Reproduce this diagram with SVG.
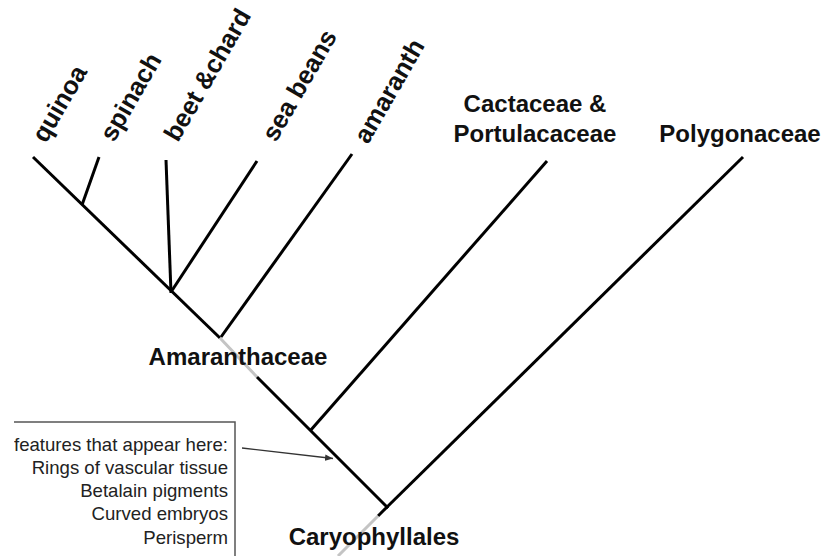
<svg xmlns="http://www.w3.org/2000/svg" width="825" height="556" viewBox="0 0 825 556">
<style>
.br{stroke:#000;stroke-width:3;stroke-linecap:butt;fill:none}
.gr{stroke:#c4c4c4;stroke-width:3;fill:none}
.lbl{font-family:"Liberation Sans",Arial,Helvetica,sans-serif;font-weight:bold;font-size:24px;fill:#111}
.rot{font-size:25.5px}
.note{font-family:"Liberation Sans",Arial,Helvetica,sans-serif;font-size:18.6px;fill:#222;text-anchor:end}
</style>
<defs>
<marker id="ah" viewBox="0 0 10 10" refX="10" refY="5" markerWidth="8" markerHeight="8" markerUnits="userSpaceOnUse" orient="auto">
<path d="M0,1 L10,5 L0,9 z" fill="#333"/>
</marker>
<clipPath id="clip"><rect x="14" y="0" width="811" height="556"/></clipPath>
</defs>
<rect width="825" height="556" fill="#fff"/>
<g id="connectors">
<line class="br" x1="33" y1="157" x2="220" y2="338"/>
<line class="gr" x1="220" y1="338" x2="257" y2="377"/>
<line class="br" x1="257" y1="377" x2="388" y2="508"/>
<line class="br" x1="388" y1="506" x2="378" y2="516"/>
<line class="gr" x1="378" y1="516" x2="338" y2="556"/>
<line class="br" x1="82" y1="205" x2="99" y2="157"/>
<line class="br" x1="171" y1="293" x2="166" y2="160"/>
<line class="br" x1="171" y1="292" x2="257" y2="161"/>
<line class="br" x1="221" y1="337" x2="352" y2="154"/>
<line class="br" x1="310" y1="431" x2="547" y2="161"/>
<line class="br" x1="386" y1="508" x2="743" y2="157"/>
<line x1="242" y1="448" x2="333" y2="458.5" stroke="#333" stroke-width="1.3" marker-end="url(#ah)"/>
</g>
<g id="quinoa"><text class="lbl rot" transform="translate(46,144) rotate(-60)">quinoa</text></g>
<g id="spinach"><text class="lbl rot" transform="translate(114,143) rotate(-60)">spinach</text></g>
<g id="beet-chard"><text class="lbl rot" transform="translate(178,143) rotate(-60)">beet &amp;chard</text></g>
<g id="sea-beans"><text class="lbl rot" transform="translate(276,143) rotate(-60)">sea beans</text></g>
<g id="amaranth"><text class="lbl rot" transform="translate(368,145) rotate(-60)">amaranth</text></g>
<g id="cactaceae"><text class="lbl" text-anchor="middle"><tspan x="535" y="112">Cactaceae &amp;</tspan><tspan x="535" y="142">Portulacaceae</tspan></text></g>
<g id="polygonaceae"><text class="lbl" x="740" y="142" text-anchor="middle">Polygonaceae</text></g>
<g id="amaranthaceae"><text class="lbl" x="238" y="365" text-anchor="middle">Amaranthaceae</text></g>
<g id="caryophyllales"><text class="lbl" x="374" y="545" text-anchor="middle">Caryophyllales</text></g>
<g id="features-box" clip-path="url(#clip)">
<polyline points="14,422 235,422 235,556" fill="none" stroke="#555" stroke-width="1.5"/>
<text class="note"><tspan x="228" y="450.5">features that appear here:</tspan><tspan x="228" y="473.5">Rings of vascular tissue</tspan><tspan x="228" y="497">Betalain pigments</tspan><tspan x="228" y="520">Curved embryos</tspan><tspan x="228" y="543.5">Perisperm</tspan></text>
</g>
</svg>
